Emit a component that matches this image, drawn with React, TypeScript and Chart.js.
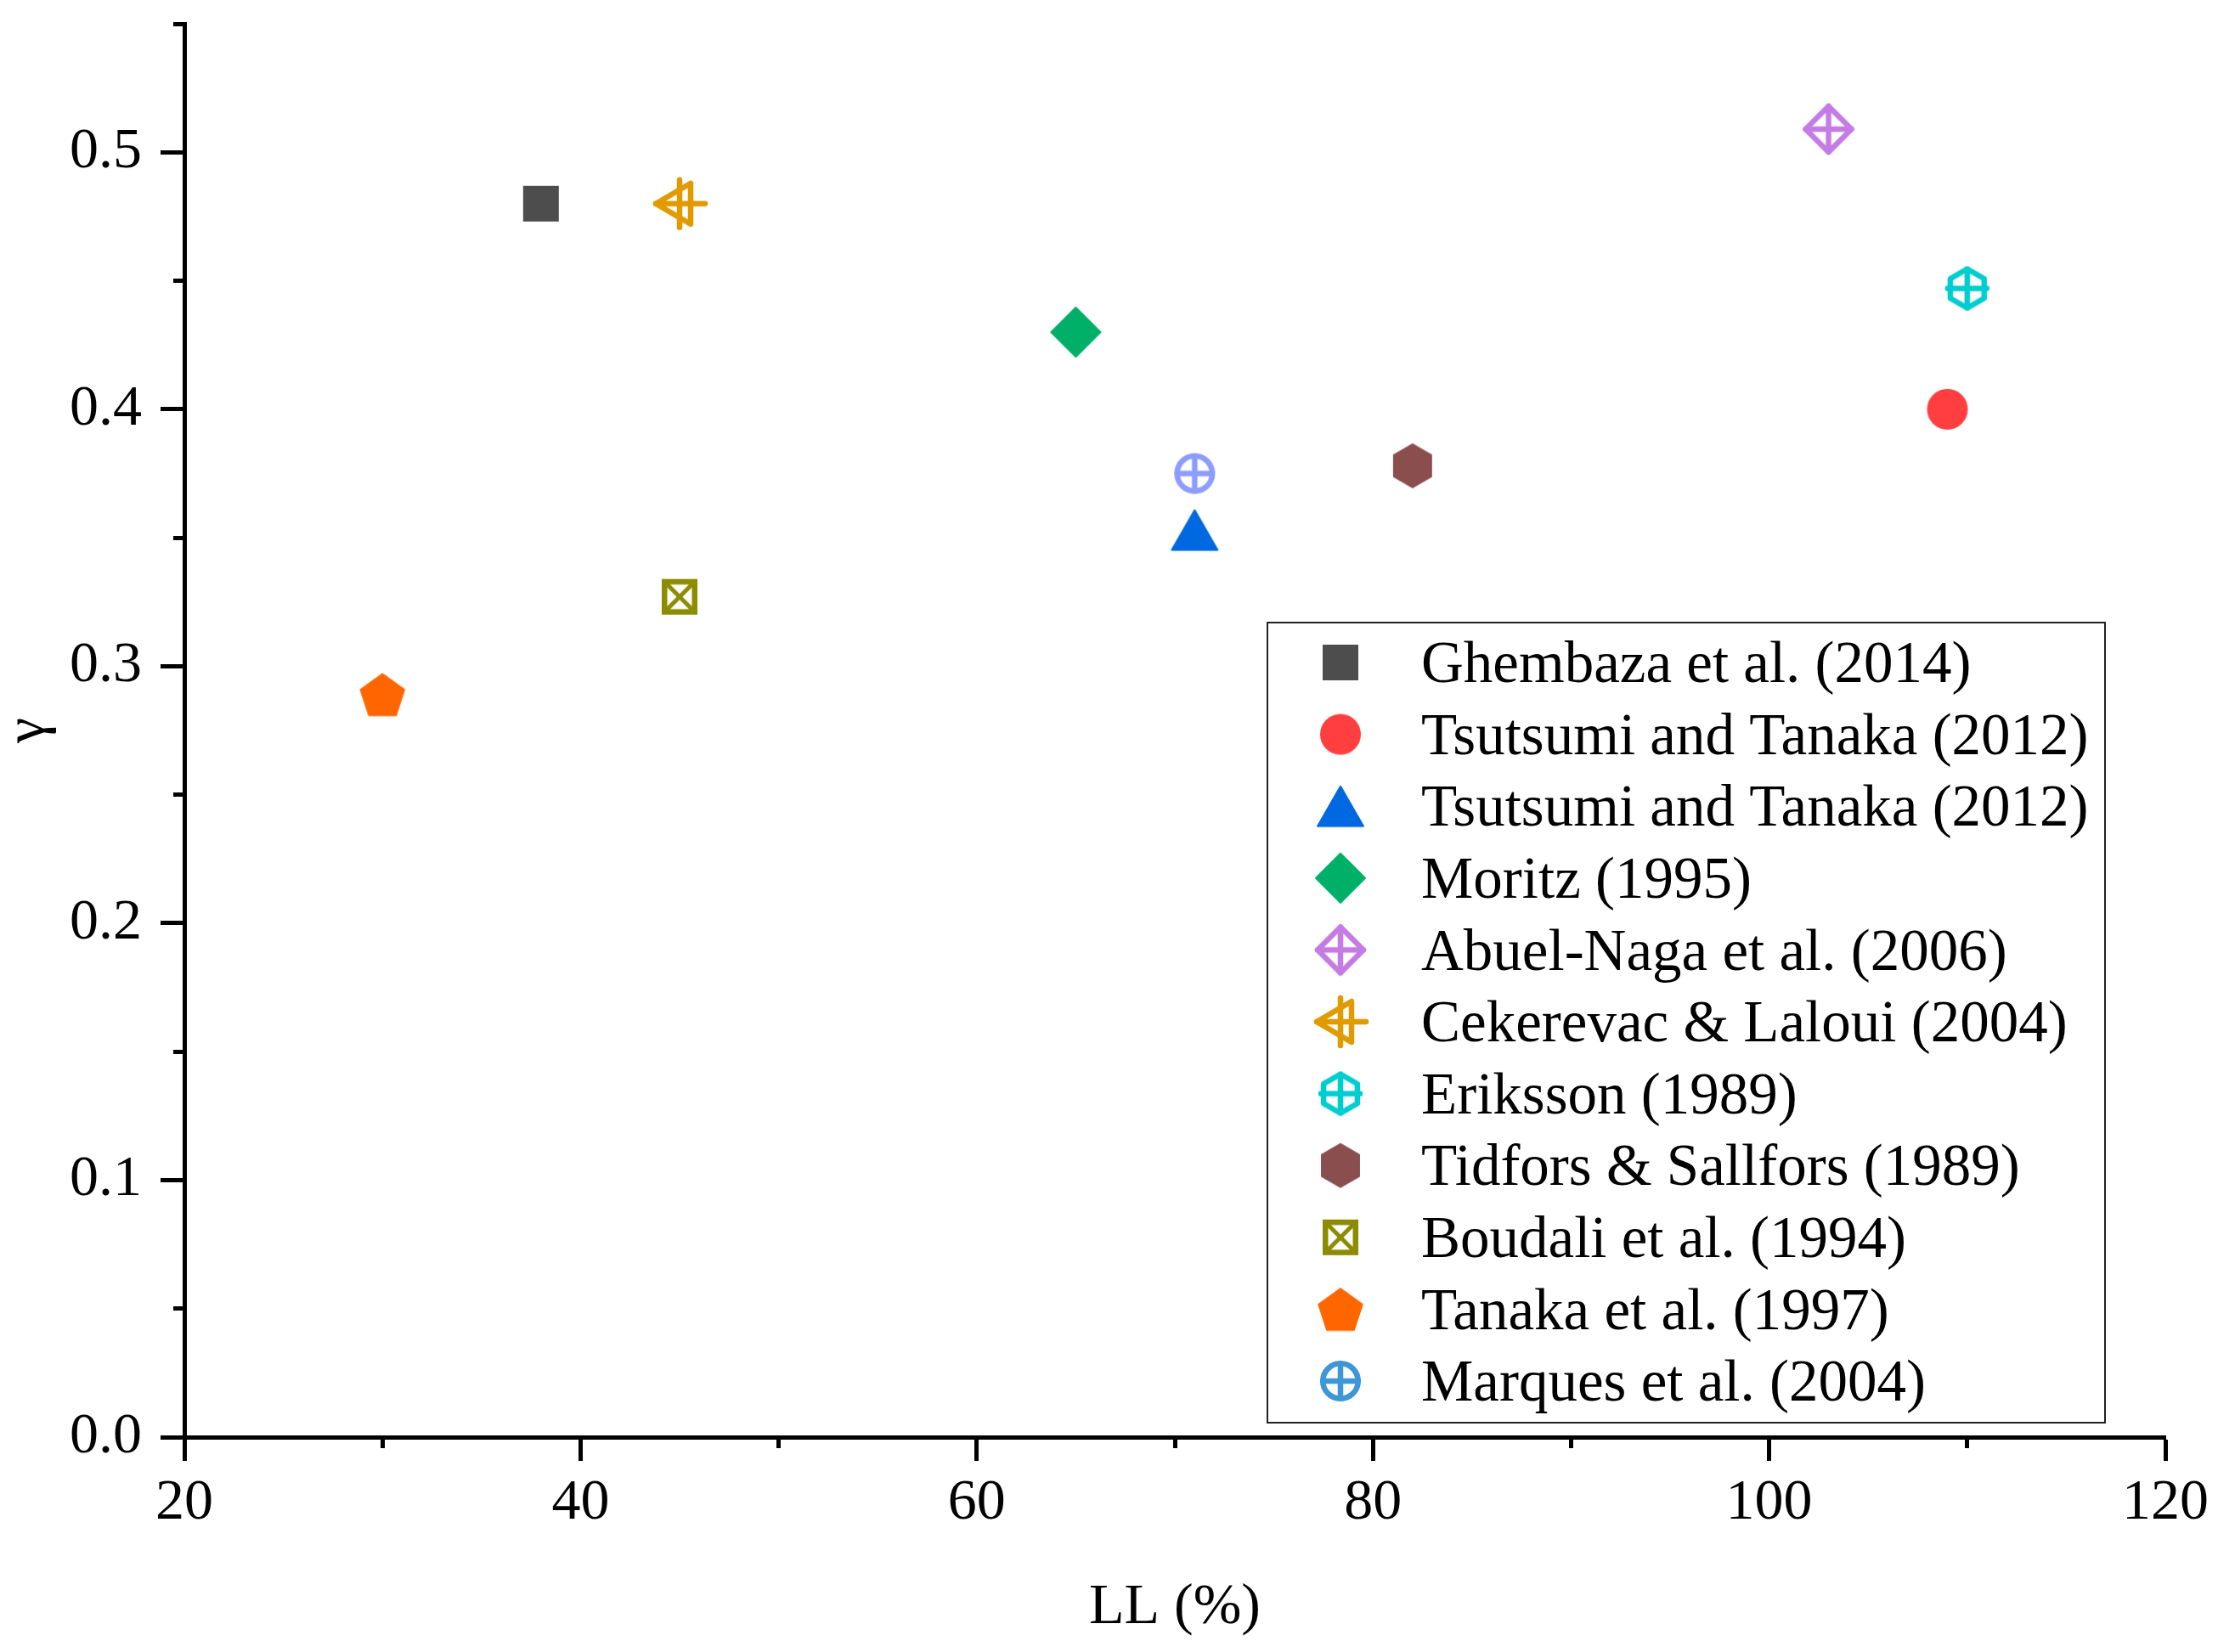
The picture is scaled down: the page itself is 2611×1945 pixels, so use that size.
import React, { useEffect, useRef } from "react";
import { Chart, registerables, Plugin } from "chart.js";

Chart.register(...registerables);

const seriesNames = [
  "Ghembaza et al. (2014)",
  "Tsutsumi and Tanaka (2012)",
  "Tsutsumi and Tanaka (2012)",
  "Moritz (1995)",
  "Abuel-Naga et al. (2006)",
  "Cekerevac & Laloui (2004)",
  "Eriksson (1989)",
  "Tidfors & Sallfors (1989)",
  "Boudali et al. (1994)",
  "Tanaka et al. (1997)",
  "Marques et al. (2004)",
];
const liquidLimit = [38, 109, 71, 65, 103, 45, 110, 82, 45, 30, 71];
const gammaValues = [0.48, 0.4, 0.353, 0.43, 0.509, 0.48, 0.447, 0.378, 0.327, 0.289, 0.375];

const xTicks = [20, 40, 60, 80, 100, 120];
const xMinorTicks = [30, 50, 70, 90, 110];
const yTicks = [0, 0.1, 0.2, 0.3, 0.4, 0.5];
const yMinorTicks = [0.05, 0.15, 0.25, 0.35, 0.45, 0.55];

const markerShapes = [
  "square",
  "circle",
  "triangle",
  "diamond",
  "diamondCross",
  "triangleLeftPlus",
  "hexagonPlus",
  "hexagon",
  "squareX",
  "pentagon",
  "circlePlus",
];
const markerColors = [
  "#4d4d4d",
  "#ff3f3f",
  "#0068e0",
  "#00b068",
  "#c57be4",
  "#e09b00",
  "#00cdd0",
  "#8b4e4e",
  "#8c8c00",
  "#ff6600",
  "#8c9cff",
];
// the last legend symbol has a different blue than its point in the plot
const legendColors = [...markerColors.slice(0, 10), "#3d97d6"];

const FONT = "'Liberation Serif', 'Times New Roman', serif";

function makeMarker(shape: string, color: string): HTMLCanvasElement {
  const size = 80;
  const canvas = document.createElement("canvas");
  canvas.width = size;
  canvas.height = size;
  const ctx = canvas.getContext("2d")!;
  ctx.translate(size / 2, size / 2);
  ctx.fillStyle = color;
  ctx.strokeStyle = color;
  ctx.lineJoin = "round";
  ctx.lineCap = "round";

  const poly = (pts: number[][]) => {
    ctx.beginPath();
    pts.forEach(([x, y], i) => (i ? ctx.lineTo(x, y) : ctx.moveTo(x, y)));
    ctx.closePath();
  };
  const line = (x1: number, y1: number, x2: number, y2: number) => {
    ctx.beginPath();
    ctx.moveTo(x1, y1);
    ctx.lineTo(x2, y2);
    ctx.stroke();
  };
  const regular = (n: number, r: number, dy = 0) =>
    poly(
      Array.from({ length: n }, (_, i) => {
        const a = -Math.PI / 2 + (i * 2 * Math.PI) / n;
        return [r * Math.cos(a), r * Math.sin(a) + dy];
      })
    );
  const lw = 6.5;

  switch (shape) {
    case "square":
      ctx.fillRect(-21, -21, 42, 42);
      break;
    case "circle":
      ctx.beginPath();
      ctx.arc(0, 0, 24, 0, Math.PI * 2);
      ctx.fill();
      break;
    case "triangle":
      ctx.lineWidth = 2;
      poly([[0, -23.5], [27, 23.5], [-27, 23.5]]);
      ctx.fill();
      ctx.stroke();
      break;
    case "diamond":
      ctx.lineWidth = 2;
      poly([[0, -29], [29, 0], [0, 29], [-29, 0]]);
      ctx.fill();
      ctx.stroke();
      break;
    case "diamondCross":
      ctx.lineWidth = lw;
      poly([[0, -27], [27, 0], [0, 27], [-27, 0]]);
      ctx.stroke();
      line(-27, 0, 27, 0);
      line(0, -27, 0, 27);
      break;
    case "triangleLeftPlus":
      ctx.lineWidth = lw;
      poly([[-28, 0], [13, -24], [13, 24]]);
      ctx.stroke();
      line(-28, 0, 30, 0);
      line(0, -28, 0, 28);
      break;
    case "hexagonPlus":
      ctx.lineWidth = lw;
      regular(6, 23);
      ctx.stroke();
      line(0, -23, 0, 23);
      line(-23, 0, 23, 0);
      break;
    case "hexagon":
      regular(6, 26.5);
      ctx.fill();
      break;
    case "squareX": {
      const h = 17.75;
      ctx.lineWidth = lw;
      ctx.lineJoin = "miter";
      ctx.lineCap = "butt";
      ctx.strokeRect(-h, -h, 2 * h, 2 * h);
      ctx.lineWidth = 5;
      line(-h, -h, h, h);
      line(h, -h, -h, h);
      break;
    }
    case "pentagon":
      ctx.lineWidth = 2;
      regular(5, 27, 2.7);
      ctx.fill();
      ctx.stroke();
      break;
    case "circlePlus":
      ctx.lineWidth = lw;
      ctx.beginPath();
      ctx.arc(0, 0, 20.75, 0, Math.PI * 2);
      ctx.stroke();
      line(-20.75, 0, 20.75, 0);
      line(0, -20.75, 0, 20.75);
      break;
  }
  return canvas;
}

const tickFont = { family: FONT, size: 68, lineHeight: 1.2 };
const titleFont = { family: FONT, size: 68, lineHeight: 1 };

export default function App() {
  const canvasRef = useRef<HTMLCanvasElement | null>(null);

  useEffect(() => {
    if (!canvasRef.current) return;

    const pointMarkers = markerShapes.map((s, i) => makeMarker(s, markerColors[i]));
    const legendMarkers = markerShapes.map((s, i) => makeMarker(s, legendColors[i]));

    // legend sits inside the plot, lower right, with a thin frame
    const boxLegend: Plugin<"scatter"> = {
      id: "boxLegend",
      afterDraw(chart) {
        const { ctx } = chart;
        const left = 1492;
        const top = 733;
        const width = 986;
        const height = 942;
        const markerX = 1578;
        const textX = 1673;
        const firstRow = 780;
        const rowGap = 84.6;
        const fontSize = 69;
        ctx.save();
        ctx.lineWidth = 2;
        ctx.strokeStyle = "#222";
        ctx.strokeRect(left, top, width, height);
        ctx.font = `${fontSize}px ${FONT}`;
        ctx.fillStyle = "#000";
        ctx.textBaseline = "alphabetic";
        ctx.textAlign = "left";
        chart.data.datasets.forEach((ds, i) => {
          const y = firstRow + i * rowGap;
          const img = legendMarkers[i];
          ctx.drawImage(img, markerX - img.width / 2, y - img.height / 2);
          ctx.fillText(String(ds.label), textX, y + fontSize * 0.335);
        });
        ctx.restore();
      },
    };

    const chart = new Chart(canvasRef.current, {
      type: "scatter",
      data: {
        datasets: seriesNames.map((name, i) => ({
          label: name,
          data: [{ x: liquidLimit[i], y: gammaValues[i] }],
          pointStyle: pointMarkers[i],
          pointRadius: 25,
          xAxisID: "x",
          yAxisID: "y",
        })),
      },
      options: {
        animation: false,
        responsive: true,
        maintainAspectRatio: false,
        events: [],
        color: "#000",
        layout: { padding: { top: 28, right: 62, bottom: 0, left: 0 } },
        plugins: {
          legend: { display: false },
          tooltip: { enabled: false },
        },
        scales: {
          x: {
            type: "linear",
            position: "bottom",
            min: 20,
            max: 120,
            afterBuildTicks: (s: any) => {
              s.ticks = xTicks.map((v) => ({ value: v }));
            },
            afterFit: (s: any) => {
              s.height = 253;
              s.paddingLeft = 0;
              s.paddingRight = 0;
            },
            ticks: {
              font: tickFont,
              color: "#000",
              padding: 9,
              maxRotation: 0,
              callback: (v: any) => String(v),
            },
            grid: {
              drawOnChartArea: false,
              tickLength: 28,
              tickWidth: 5,
              tickColor: "#000",
            },
            border: { color: "#000", width: 5 },
            title: {
              display: true,
              text: "LL (%)",
              font: titleFont,
              color: "#000",
              padding: { top: 0, bottom: 18 },
            },
          },
          xMinor: {
            type: "linear",
            axis: "x",
            position: { y: 0 },
            min: 20,
            max: 120,
            afterBuildTicks: (s: any) => {
              s.ticks = xMinorTicks.map((v) => ({ value: v }));
            },
            ticks: { display: false },
            grid: {
              drawOnChartArea: false,
              tickLength: 13,
              tickWidth: 5,
              tickColor: "#000",
            },
            border: { display: false },
          },
          y: {
            type: "linear",
            position: "left",
            min: 0,
            max: 0.55,
            afterBuildTicks: (s: any) => {
              s.ticks = yTicks.map((v) => ({ value: v }));
            },
            afterFit: (s: any) => {
              s.width = 217;
              s.paddingTop = 0;
              s.paddingBottom = 0;
            },
            ticks: {
              font: tickFont,
              color: "#000",
              padding: 22,
              callback: (v: any) => Number(v).toFixed(1),
            },
            grid: {
              drawOnChartArea: false,
              tickLength: 28,
              tickWidth: 5,
              tickColor: "#000",
            },
            border: { color: "#000", width: 5 },
            title: {
              display: true,
              text: "γ",
              font: titleFont,
              color: "#000",
              padding: { top: 0, bottom: 0 },
            },
          },
          yMinor: {
            type: "linear",
            axis: "y",
            position: { x: 20 },
            min: 0,
            max: 0.55,
            afterBuildTicks: (s: any) => {
              s.ticks = yMinorTicks.map((v) => ({ value: v }));
            },
            ticks: { display: false },
            grid: {
              drawOnChartArea: false,
              tickLength: 13,
              tickWidth: 5,
              tickColor: "#000",
            },
            border: { display: false },
          },
        },
      } as any,
      plugins: [boxLegend],
    });

    return () => {
      chart.destroy();
    };
  }, []);

  return (
    <div
      style={{
        position: "fixed",
        left: 0,
        top: 0,
        width: 2611,
        height: 1945,
        background: "#fff",
      }}
    >
      <canvas ref={canvasRef} />
    </div>
  );
}
